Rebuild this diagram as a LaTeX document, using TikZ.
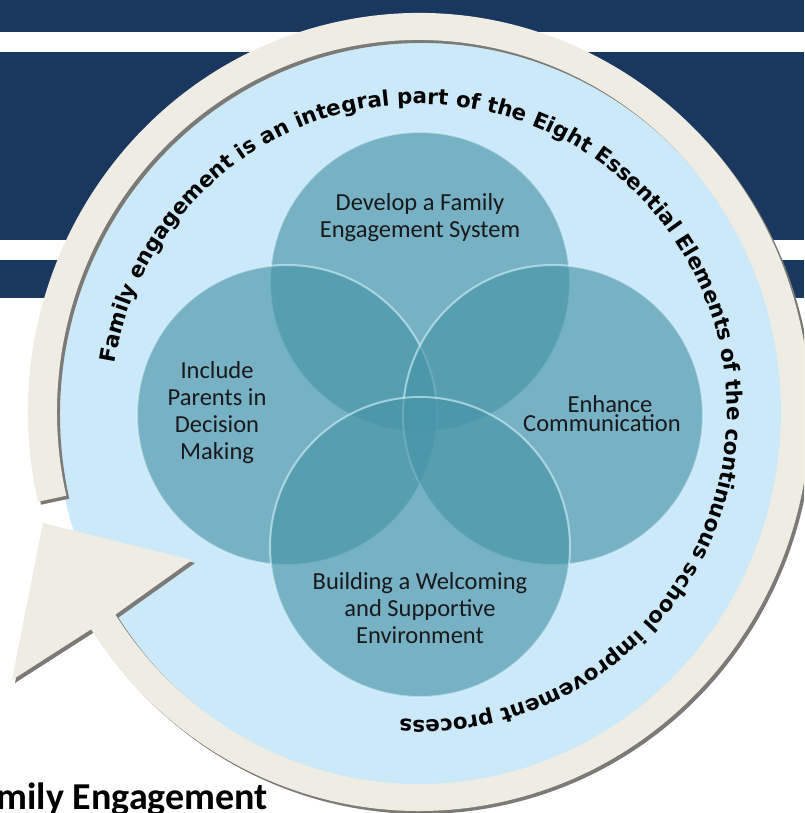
\documentclass[tikz,border=0pt]{standalone}
\usepackage{fontspec}
\usepackage{tikz}
\usetikzlibrary{positioning,calc,decorations.text}
\newfontfamily\lblfam{Carlito}
\newfontfamily\ringfam{DejaVu Sans}
\newcommand\ringfont{\ringfam\bfseries\fontsize{21.4}{22}\selectfont}
\definecolor{navycol}{HTML}{1A375F}
\definecolor{disccol}{HTML}{CCE9F9}
\definecolor{ringcol}{HTML}{EEECE3}
\definecolor{ringshade}{HTML}{7B7A76}
\definecolor{bubblecol}{HTML}{4894A8}
\definecolor{rimcol}{HTML}{D8F4FC}
\tikzset{
  band/.style={fill=navycol},
  bubble/.style={circle,minimum size=300pt,inner sep=0pt,fill=bubblecol,fill opacity=0.65,
    draw=rimcol,draw opacity=0.6,line width=2pt},
  lbl/.style={font=\lblfam\fontsize{24.5}{27}\selectfont,align=center,text=black!90,inner sep=0pt}
}

\begin{document}
\begin{tikzpicture}[x=1pt,y=1pt]
\useasboundingbox (0,0) rectangle (804,813);
\clip (0,0) rectangle (804,813);
\fill[white] (0,0) rectangle (804,813);
\fill[band] (0,781) rectangle (804,813);
\fill[band] (0,573) rectangle (804,761);
\fill[band] (0,515) rectangle (804,553);
\begin{scope}[shift={(419,401)}]
\fill[disccol] (0,0) ellipse [x radius=364,y radius=374];
\foreach \dx/\dy/\col in {3/-3/ringshade,0/0/ringcol}
  \fill[\col,shift={(\dx,\dy)}] (193:391 and 399) arc[start angle=193,end angle=-147,x radius=391,y radius=399]
    -- (-407,-268) -- (-376,-111) -- (-227,-148) -- (-147:362 and 372)
    arc[start angle=-147,end angle=193,x radius=362,y radius=372] -- cycle;
\end{scope}
\node[bubble] (dev) at (420,531) {};
\node[bubble] (incl) at (287,398) {};
\node[bubble] (enh) at (553,398) {};
\node[bubble] (build) at (420,266) {};
\node[lbl] (devtxt) at (420,595) {Develop a Family\\Engagement System};
\node[lbl] (incltxt) at (217,400) {Include\\Parents in\\Decision\\Making};
\node[lbl] (enhtxt) at (602,399) {\hspace*{16pt}Enhance\\[-8pt]Communication};
\node[lbl] (buildtxt) at (420,205) {Building a Welcoming\\and Supportive\\Environment};
\begin{scope}[shift={(419,401)}]
\path[decorate,decoration={text along path,text align=left,
  text={|\ringfont|Family engagement is an integral part of the Eight Essential Elements of the continuous school improvement process}}]
  (171:308) arc[start angle=171,end angle=-93,radius=308];
\end{scope}
\node[font=\lblfam\bfseries\fontsize{38}{44}\selectfont,anchor=base east,inner sep=0pt] (title) at (268,3) {Family Engagement};
\end{tikzpicture}
\end{document}
